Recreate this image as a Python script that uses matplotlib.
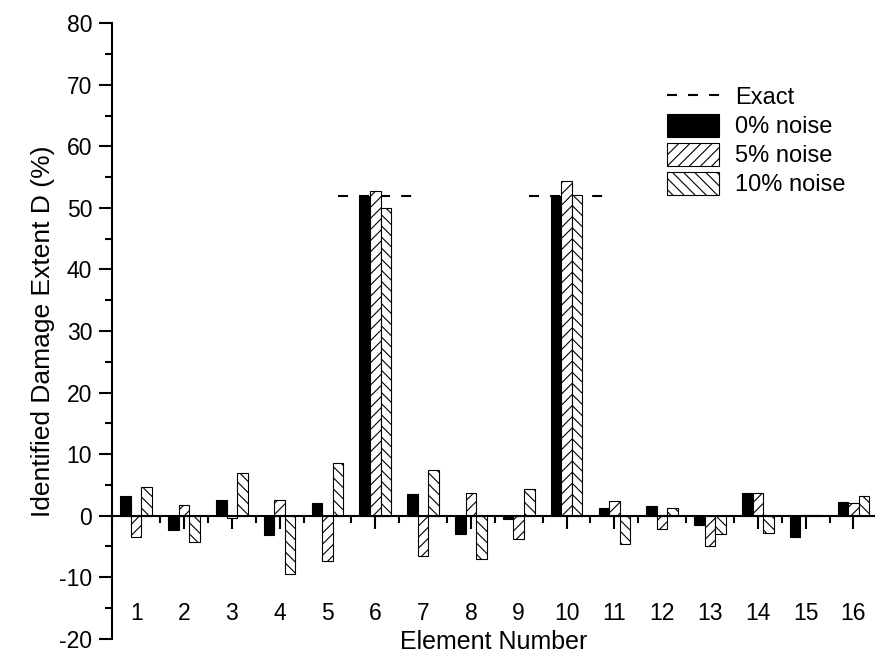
import numpy as np
import matplotlib
matplotlib.use("Agg")
import matplotlib.pyplot as plt
from matplotlib.ticker import MultipleLocator

plt.rcParams['font.family'] = ['Liberation Sans', 'DejaVu Sans']
plt.rcParams['hatch.linewidth'] = 0.8
plt.rcParams['axes.unicode_minus'] = False

elements = np.arange(1, 17)
noise_0 = [3.2, -2.3, 2.6, -3.2, 2.1, 52.0, 3.5, -3.0, -0.5, 52.0, 1.25, 1.6, -1.5, 3.7, -3.4, 2.2]
noise_5 = [-3.4, 1.8, -0.4, 2.6, -7.3, 52.8, -6.6, 3.6, -3.8, 54.3, 2.3, -2.1, -4.9, 3.7, 0.15, 2.1]
noise_10 = [4.7, -4.3, 6.9, -9.5, 8.6, 50.0, 7.4, -7.0, 4.3, 52.1, -4.6, 1.2, -3.0, -2.9, 0.15, 3.2]
exact_elements = [6, 10]
exact_values = [52.0, 52.0]

fig = plt.figure(figsize=(8.75, 6.64), dpi=100)
ax = fig.add_axes([0.1283, 0.0381, 0.8717, 0.9268])

w = 0.22
ax.hlines(exact_values, np.array(exact_elements) - 0.78, np.array(exact_elements) + 0.78,
          colors='black', linewidth=1.5, linestyles=(0, (4.8, 5.3)), zorder=1, label='Exact')
ax.bar(elements - w, noise_0, w, color='black', edgecolor='black', linewidth=0.8,
       zorder=2, label='0% noise')
ax.bar(elements, noise_5, w, color='white', edgecolor='black', linewidth=0.8,
       hatch='///', zorder=2, label='5% noise')
ax.bar(elements + w, noise_10, w, color='white', edgecolor='black', linewidth=0.8,
       hatch='\\\\\\', zorder=2, label='10% noise')

ax.set_xlim(0.5, 16.45)
ax.set_ylim(-20, 80)

ax.spines['top'].set_visible(False)
ax.spines['right'].set_visible(False)
ax.spines['bottom'].set_position(('data', 0))
ax.spines['bottom'].set_linewidth(1.5)
ax.spines['left'].set_linewidth(1.5)

ax.xaxis.set_major_locator(MultipleLocator(1))
ax.xaxis.set_minor_locator(MultipleLocator(0.5))
ax.yaxis.set_major_locator(MultipleLocator(10))
ax.yaxis.set_minor_locator(MultipleLocator(5))
ax.tick_params(axis='both', which='major', direction='out', length=9.5, width=1.5, labelsize=16.5)
ax.tick_params(axis='both', which='minor', direction='out', length=5, width=1.5)
ax.tick_params(axis='y', which='major', pad=5)
ax.tick_params(axis='x', which='major', pad=53)

ax.set_xlabel('Element Number', fontsize=18, labelpad=3)
ax.set_ylabel('Identified Damage Extent D (%)', fontsize=19, labelpad=3)

ax.legend(loc='upper left', bbox_to_anchor=(0.7273, 0.9), frameon=False, fontsize=17,
          borderaxespad=0, borderpad=0, handlelength=2.2, handleheight=1.1,
          handletextpad=0.68, labelspacing=0.2)

fig.savefig('out.png', dpi=100)
